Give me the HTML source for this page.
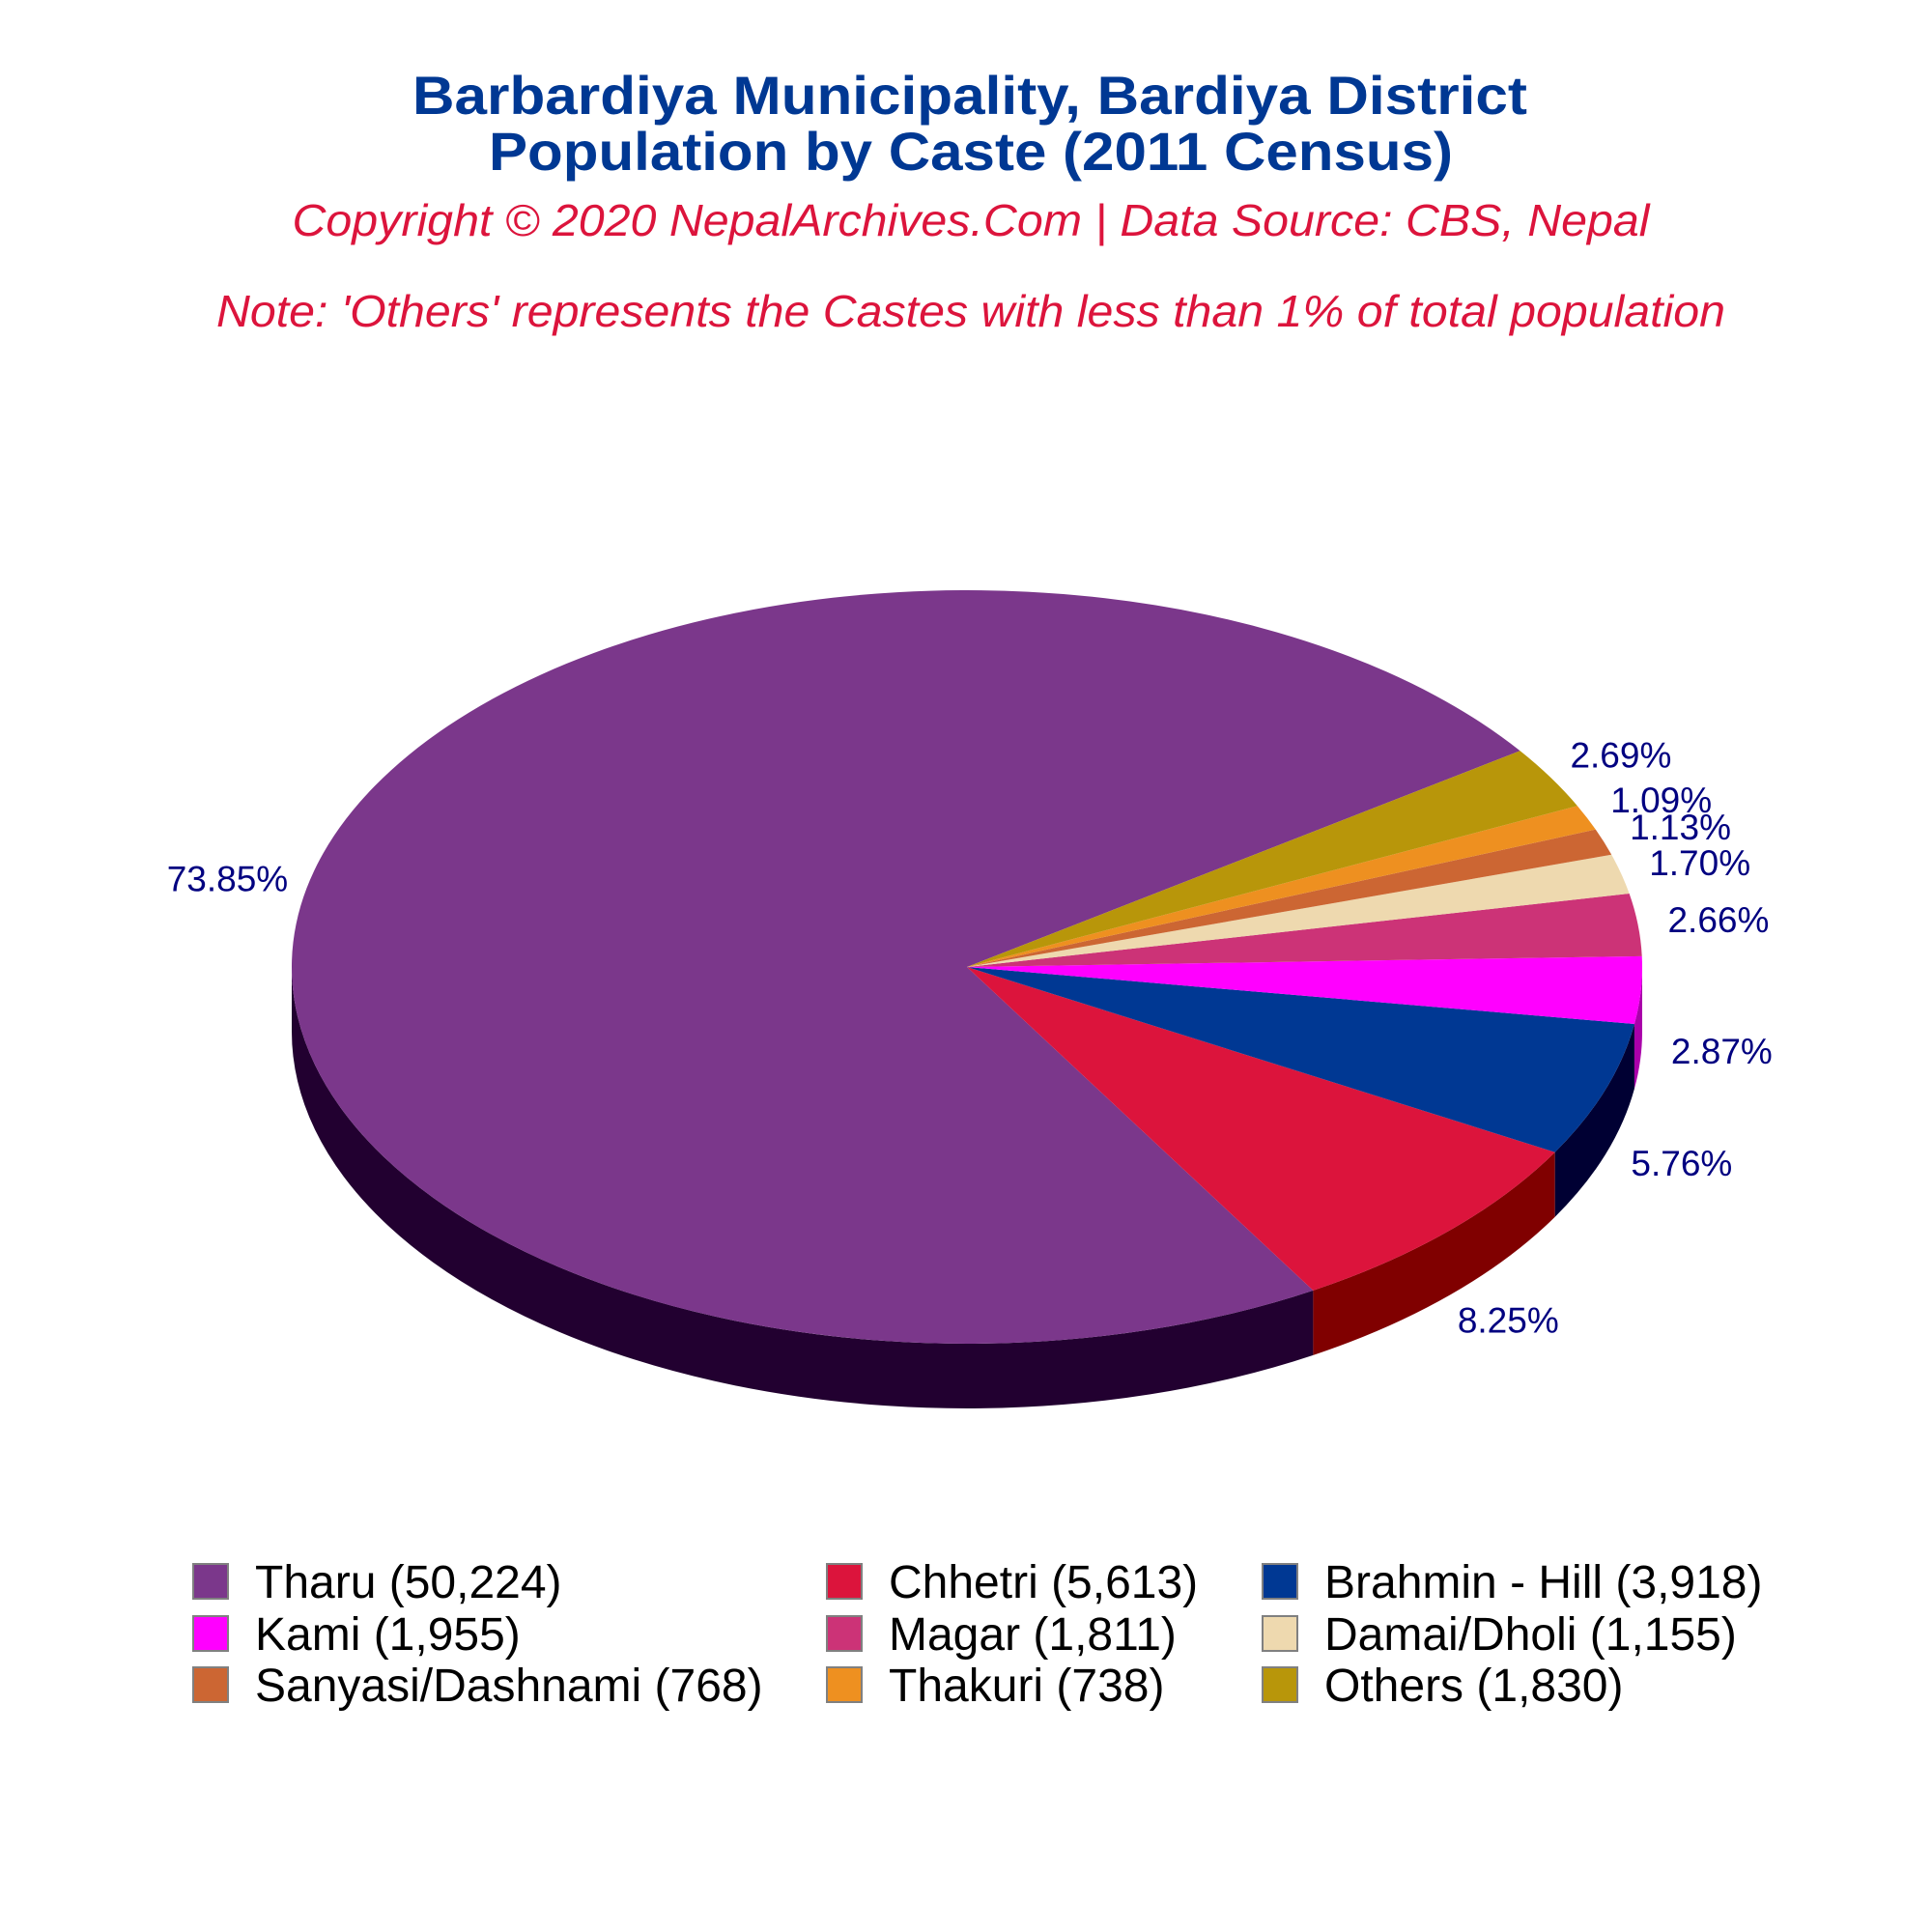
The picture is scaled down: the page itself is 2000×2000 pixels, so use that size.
<!DOCTYPE html>
<html><head><meta charset="utf-8"><title>Barbardiya Population by Caste</title>
<style>html,body{margin:0;padding:0;background:#fff}svg{display:block}</style></head>
<body>
<svg id="chart" width="2000" height="2000" viewBox="0 0 2000 2000" xmlns="http://www.w3.org/2000/svg" font-family="'Liberation Sans', Arial, sans-serif">
<rect width="2000" height="2000" fill="#fff"/>
<text x="1004" y="118" text-anchor="middle" font-size="56" font-weight="bold" fill="#003893" textLength="1154" lengthAdjust="spacingAndGlyphs">Barbardiya Municipality, Bardiya District</text>
<text x="1005" y="176" text-anchor="middle" font-size="56" font-weight="bold" fill="#003893" textLength="998" lengthAdjust="spacingAndGlyphs">Population by Caste (2011 Census)</text>
<text x="1005" y="244" text-anchor="middle" font-size="46" font-style="italic" fill="#dc143c" textLength="1405" lengthAdjust="spacingAndGlyphs">Copyright © 2020 NepalArchives.Com | Data Source: CBS, Nepal</text>
<text x="1005" y="338" text-anchor="middle" font-size="46" font-style="italic" fill="#dc143c" textLength="1562" lengthAdjust="spacingAndGlyphs">Note: 'Others' represents the Castes with less than 1% of total population</text>
<g id="sides"></g><g id="tops"></g><g id="labels"></g><g id="legend"></g>
</svg>
<script>
const categories = ["Tharu","Chhetri","Brahmin - Hill","Kami","Magar","Damai/Dholi","Sanyasi/Dashnami","Thakuri","Others"];
const values = [50224,5613,3918,1955,1811,1155,768,738,1830];
const colors = ["#7b378b","#dc143c","#003893","#ff00ff","#cc3377","#eed9af","#cc6633","#ee9020","#b8960a"];
const sideColors = ["#220030","#800000","#000033","#aa00aa","#7a1f47","#8e826a","#7a3d1f","#8e5613","#6e5a06"];
const startAngle = 35;

const NS = "http://www.w3.org/2000/svg";
const cx = 1001, cy = 1001, rx = 699, ry = 390, depth = 67;
const total = values.reduce((a,b)=>a+b,0);
const rad = d => d*Math.PI/180;
const px = (a,r=1) => cx + rx*r*Math.cos(rad(a));
const py = (a,r=1) => cy - ry*r*Math.sin(rad(a));
const sides = document.getElementById('sides');
const tops = document.getElementById('tops');
const labels = document.getElementById('labels');
const legend = document.getElementById('legend');

let a = startAngle;
values.forEach((v,i)=>{
  const sweep = v/total*360;
  const a0 = a, a1 = a + sweep;
  a = a1;
  [[180,360],[540,720]].forEach(([lo,hi])=>{
    const s = Math.max(a0,lo), e = Math.min(a1,hi);
    if (e > s) {
      const lg = (e-s) > 180 ? 1 : 0;
      const d = `M${px(s)},${py(s)} A${rx},${ry} 0 ${lg} 0 ${px(e)},${py(e)} L${px(e)},${py(e)+depth} A${rx},${ry} 0 ${lg} 1 ${px(s)},${py(s)+depth} Z`;
      const p = document.createElementNS(NS,'path');
      p.setAttribute('d', d);
      p.setAttribute('fill', sideColors[i]);
      
      
      sides.appendChild(p);
    }
  });
  const lg = sweep > 180 ? 1 : 0;
  const t = document.createElementNS(NS,'path');
  t.setAttribute('d', `M${cx},${cy} L${px(a0)},${py(a0)} A${rx},${ry} 0 ${lg} 0 ${px(a1)},${py(a1)} Z`);
  t.setAttribute('fill', colors[i]);
  
  
  tops.appendChild(t);
  const m = (a0+a1)/2;
  const sn = Math.sin(rad(m));
  const lx = px(m,1.12), ly = py(m,1.12) + (sn < 0 ? depth*0.9 : 0) + 13;
  const tx = document.createElementNS(NS,'text');
  tx.setAttribute('x', lx); tx.setAttribute('y', ly);
  tx.setAttribute('text-anchor','middle');
  tx.setAttribute('font-size','37');
  tx.setAttribute('fill','#000080');
  tx.textContent = (v/total*100).toFixed(2) + '%';
  
  
  labels.appendChild(tx);
});

const colBox = [200, 856, 1307];
const rowY = [1654, 1708, 1761];
categories.forEach((c,i)=>{
  const col = i%3, row = Math.floor(i/3);
  const g = document.createElementNS(NS,'g');
  
  
  const r = document.createElementNS(NS,'rect');
  r.setAttribute('x', colBox[col]); r.setAttribute('y', rowY[row]-35);
  r.setAttribute('width', 36); r.setAttribute('height', 36);
  r.setAttribute('fill', colors[i]); r.setAttribute('stroke', '#808080'); r.setAttribute('stroke-width', '2');
  
  
  const t = document.createElementNS(NS,'text');
  t.setAttribute('x', colBox[col]+64); t.setAttribute('y', rowY[row]);
  t.setAttribute('font-size','48'); t.setAttribute('fill','#000');
  t.textContent = c + ' (' + values[i].toLocaleString('en-US') + ')';
  
  
  g.appendChild(r); g.appendChild(t);
  legend.appendChild(g);
});
</script>
</body></html>
